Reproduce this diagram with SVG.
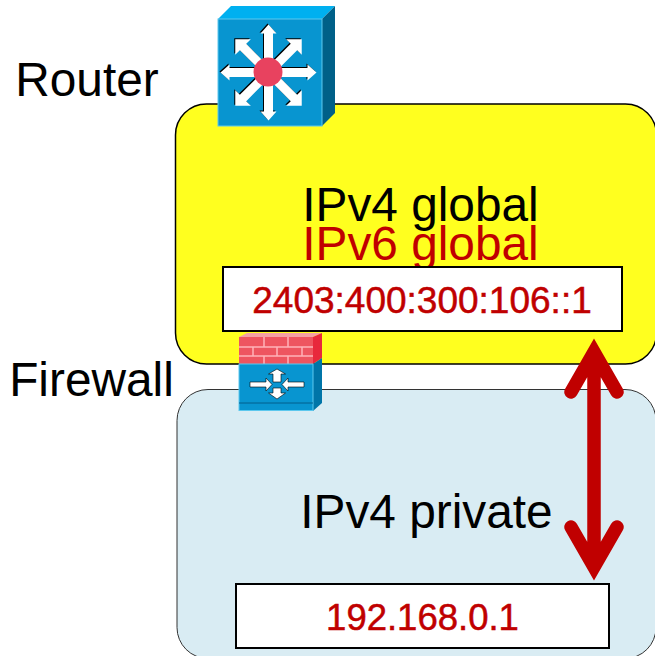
<svg xmlns="http://www.w3.org/2000/svg" width="655" height="656" viewBox="0 0 655 656">
<style>
text{font-family:"Liberation Sans",Arial,sans-serif;text-anchor:middle}
.big{font-size:47.800px}
.lab{font-size:37px;fill:#c00000;stroke:#c00000;stroke-width:.5}
.box{fill:#fff;stroke:#000;stroke-width:2}
.wa{fill:#fff}
.brick{stroke:#ffb3b8;stroke-width:1.500;fill:none}
</style>
<defs>
<path id="ax" d="M0 -48L-8 -39L-4.500 -39L-4.500 0L4.500 0L4.500 -39L8 -39Z"/>
<path id="dg" d="M0 -47L-11 -36L-4.500 -36L-4.500 0L4.500 0L4.500 -36L11 -36Z"/>
<g id="star">
<use href="#ax"/><use href="#dg" transform="rotate(45)"/><use href="#ax" transform="rotate(90)"/><use href="#dg" transform="rotate(135)"/><use href="#ax" transform="rotate(180)"/><use href="#dg" transform="rotate(225)"/><use href="#ax" transform="rotate(270)"/><use href="#dg" transform="rotate(315)"/>
</g>
</defs>
<rect width="655" height="656" fill="#fff"/>
<g id="global"><rect x="175.500" y="104" width="481" height="260" rx="31" fill="#ffff1f" stroke="#000" stroke-width="1.500"/>
<text x="420.500" y="221" class="big">IPv4 global</text>
<text x="420.500" y="260" class="big" fill="#c00000">IPv6 global</text></g>
<g id="private"><rect x="177" y="389.500" width="479" height="269" rx="31" fill="#d9ecf3" stroke="#333" stroke-width="1"/>
<text x="426.500" y="528" class="big">IPv4 private</text></g>
<g id="addr6"><rect class="box" x="223" y="267" width="399" height="64"/><text x="422" y="313" class="lab">2403:400:300:106::1</text></g>
<g id="addr4"><rect class="box" x="236" y="584" width="373" height="64"/><text x="422.500" y="630" class="lab" style="font-size:36.500px">192.168.0.1</text></g>
<g id="router">
<text x="87" y="96" class="big">Router</text>
<path d="M218 19L231 6L335 6L322 19Z" fill="#00b0f0"/>
<path d="M322 19L335 6L335 113L322 126Z" fill="#006088"/>
<rect x="218" y="19" width="104" height="107" fill="#0895d0" stroke="#5cc8ee"/>
<use href="#star" transform="translate(267.500 71.500)" fill="#000"/>
<use href="#star" transform="translate(268.500 72.500)" class="wa"/>
<circle cx="268" cy="72" r="14.500" fill="#e8425f"/>
</g>
<g id="firewall">
<text x="91.500" y="396" class="big">Firewall</text>
<path d="M239 337L247 333L322 333L313 337Z" fill="#f4a0a5"/>
<path d="M313 337L322 333L322 358L313 364Z" fill="#e8283c"/>
<rect x="239" y="337" width="74" height="27" fill="#ee5560"/>
<path class="brick" d="M239 347H313M239 356H313M264 337V347M288 337V347M253 347V356M277 347V356M302 347V356M264 356V364M288 356V364"/>
<path d="M313 364L322 358L322 403L313 411Z" fill="#0075a8"/>
<rect x="239" y="364" width="74" height="46.500" fill="#0895d0" stroke="#5cc8ee"/>
<path d="M239 403H313" stroke="#005f8c"/>
<path class="wa" stroke="#000" stroke-width=".6" d="M250 382H266V378L272 384.500L266 391V387H250Z"/>
<path class="wa" stroke="#000" stroke-width=".6" d="M304 382H288V378L282 384.500L288 391V387H304Z"/>
<path class="wa" stroke="#000" stroke-width=".6" d="M273 382V374H268.500L277 369L285.500 374H281V382Z"/>
<path class="wa" stroke="#000" stroke-width=".6" d="M273 388V393H268.500L277 399L285.500 393H281V388Z"/>
</g>
<g id="connectors">
<path d="M594 360V560M571 392L594 352L617 392M571 527L594 567L617 527" fill="none" stroke="#c00000" stroke-width="13.500" stroke-linecap="round"/>
</g>
</svg>
